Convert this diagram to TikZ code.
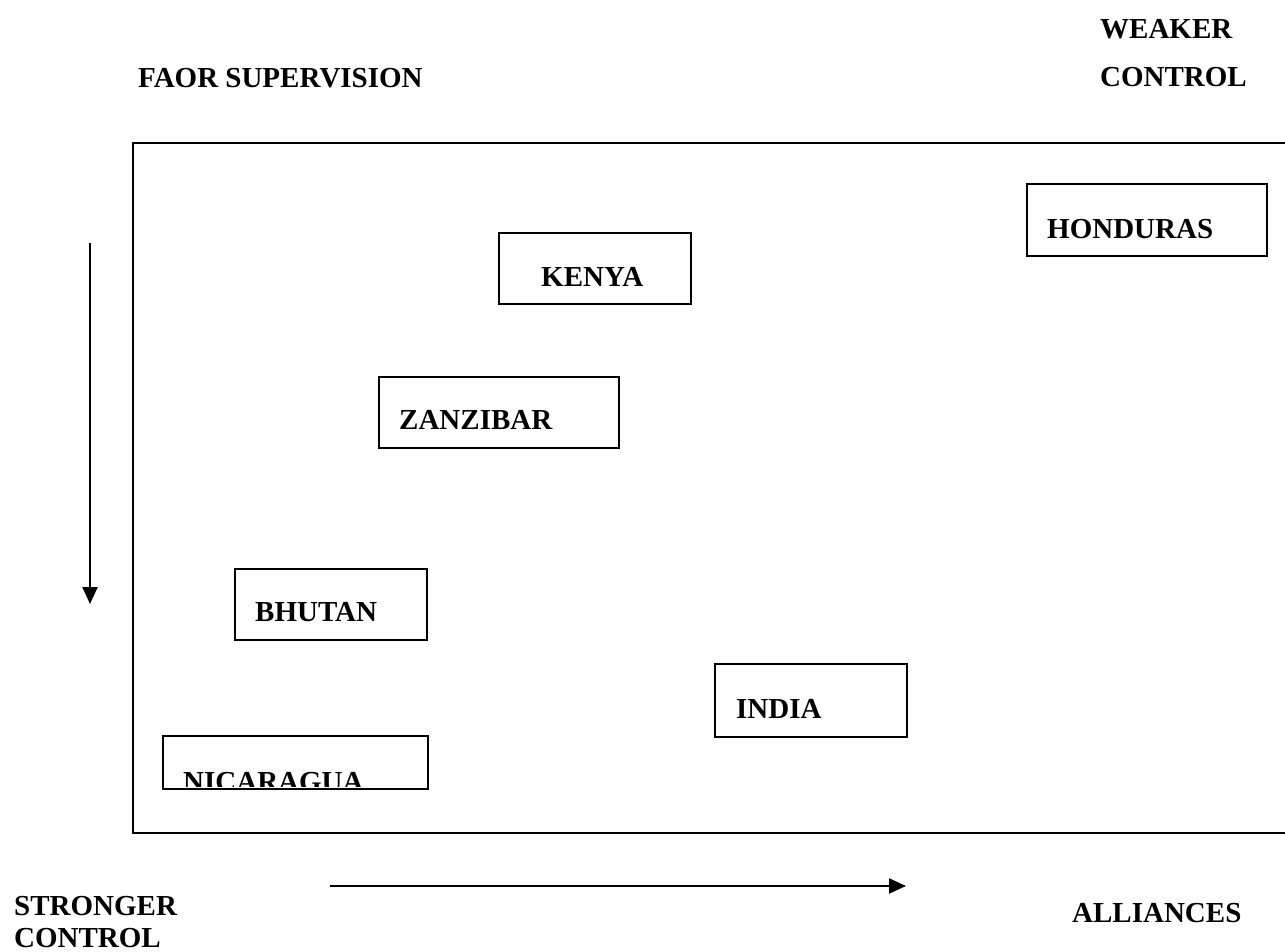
\documentclass[tikz,border=0pt]{standalone}
\usepackage{fontspec}
\setmainfont{Liberation Serif}
\usetikzlibrary{arrows.meta}
\begin{document}
\begin{tikzpicture}[x=1pt,y=-1pt,
  lbl/.style={inner sep=0pt,anchor=base west,font=\fontsize{29}{32}\selectfont\bfseries},
  box/.style={draw,line width=2.2pt,anchor=north west,inner sep=0pt},
  frameline/.style={line width=2.2pt},
  axarrow/.style={line width=2.2pt,-{Triangle[length=17pt,width=15pt]}}]
\useasboundingbox (0,0) rectangle (1285,951);
% titles
\node[lbl] (faor) at (138,87) {FAOR SUPERVISION};
\node[lbl] (weak1) at (1100,38) {WEAKER};
\node[lbl] (weak2) at (1100,86) {CONTROL};
\node[lbl] (str1) at (14,915) {STRONGER};
\node[lbl] (str2) at (14,947) {CONTROL};
\node[lbl] (all) at (1072,922) {ALLIANCES};
% frame
\coordinate (ftl) at (133,143);
\coordinate (ftr) at (1285,143);
\coordinate (fbl) at (133,833);
\coordinate (fbr) at (1285,833);
\draw[frameline] (ftl) -- (ftr);
\draw[frameline,line cap=rect] (ftl) -- (fbl) -- (fbr);
% arrows
\coordinate (va) at (90,243);
\coordinate (vb) at (90,604);
\draw[axarrow] (va) -- (vb);
\coordinate (ha) at (330,886);
\coordinate (hb) at (906,886);
\draw[axarrow] (ha) -- (hb);
% boxes
\node[box,minimum width=240pt,minimum height=72pt] (hond) at (1026,183) {};
\node[lbl] (hondt) at (1047,238) {HONDURAS};
\node[box,minimum width=192pt,minimum height=71pt] (keny) at (498,232) {};
\node[lbl] (kenyt) at (541,286) {KENYA};
\node[box,minimum width=240pt,minimum height=71pt] (zanz) at (378,376) {};
\node[lbl] (zanzt) at (399,429) {ZANZIBAR};
\node[box,minimum width=192pt,minimum height=71pt] (bhut) at (234,568) {};
\node[lbl] (bhutt) at (255,621) {BHUTAN};
\node[box,minimum width=192pt,minimum height=73pt] (indi) at (714,663) {};
\node[lbl] (indit) at (736,718) {INDIA};
\begin{scope}
\clip (162,735) rectangle (427,786);
\node[lbl] (nict) at (183,791) {NICARAGUA};
\end{scope}
\node[box,minimum width=265pt,minimum height=53pt] (nica) at (162,735) {};
\end{tikzpicture}
\end{document}
